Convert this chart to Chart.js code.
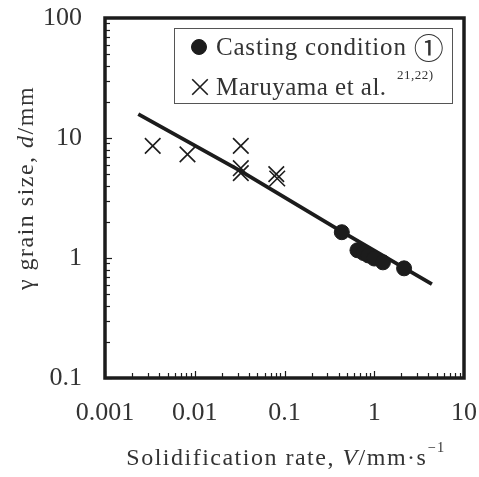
<!DOCTYPE html>
<html>
<head>
<meta charset="utf-8">
<script src="https://cdn.jsdelivr.net/npm/chart.js@4.4.0/dist/chart.umd.min.js"></script>
<style>
body { margin: 0; background: #fff; }
#wrap { width: 479px; height: 477px; }
</style>
</head>
<body>
<div id="wrap"><canvas id="grain_size_chart" width="479" height="477"></canvas></div>
<script>

// casting condition 1 (filled circles)
var casting_rate = [0.435, 0.65, 0.76, 0.86, 1.0, 1.25, 2.15];
var casting_size = [1.64, 1.16, 1.10, 1.05, 0.99, 0.92, 0.82];

// Maruyama et al. (crosses)
var maruyama_rate = [0.0034, 0.0083, 0.0326, 0.0326, 0.0326, 0.081, 0.083];
var maruyama_size = [8.6, 7.3, 8.6, 5.6, 5.1, 5.0, 4.6];

// calculated line
var calc_rate = [0.00235, 0.0326, 0.149, 0.435, 4.39];
var calc_size = [15.8, 5.3, 2.68, 1.66, 0.607];

var x_ticks = [0.001, 0.01, 0.1, 1, 10];
var x_tick_labels = ['0.001', '0.01', '0.1', '1', '10'];
var y_ticks = [0.1, 1, 10, 100];
var y_tick_labels = ['0.1', '1', '10', '100'];

var ink = '#1c1c1c';
var text_color = '#333';
var serif = '"Liberation Serif", "DejaVu Serif", serif';

function toPoints(xs, ys) {
    return xs.map(function (x, i) { return {x: x, y: ys[i]}; });
}

// text made of plain / italic / superscript pieces
function partFont(p, size) {
    var s = p.sup ? size * 0.6 : (p.scale ? size * p.scale : size);
    return (p.i ? 'italic ' : '') + s + 'px ' + (p.cjk ? '"Noto Sans CJK JP"' : serif);
}
function richWidth(ctx, parts, size) {
    var w = 0;
    parts.forEach(function (p) {
        ctx.font = partFont(p, size);
        w += ctx.measureText(p.t).width;
    });
    return w;
}
function richDraw(ctx, parts, size, x, y) {
    parts.forEach(function (p) {
        ctx.font = partFont(p, size);
        ctx.fillText(p.t, x, p.sup ? y - size * 0.45 : y);
        x += ctx.measureText(p.t).width;
    });
}

var x_title = [{t: 'Solidification rate, '}, {t: 'V', i: true}, {t: '/mm\u00b7s'}, {t: '\u22121', sup: true}];
var y_title = [{t: '\u03b3 grain size, '}, {t: 'd', i: true}, {t: '/mm'}];
var casting_legend = [{t: 'Casting condition '}, {t: '\u2460', cjk: true, scale: 1.2}];

const framePlugin = {
    id: 'frame',
    afterDraw: function (chart) {
        var ctx = chart.ctx;
        var a = chart.chartArea;
        var xs = chart.scales.x, ys = chart.scales.y;
        ctx.save();
        ctx.strokeStyle = ink;
        // inward ticks on the bottom and left axes
        ctx.lineWidth = 1.2;
        for (var e = -3; e < 1; e++) {
            for (var m = 1; m < 10; m++) {
                var px = Math.round(xs.getPixelForValue(m * Math.pow(10, e))) + 0.5;
                var len = m === 1 ? 7 : 5;
                ctx.beginPath(); ctx.moveTo(px, a.bottom); ctx.lineTo(px, a.bottom - len); ctx.stroke();
            }
        }
        for (var e2 = -1; e2 < 2; e2++) {
            for (var m2 = 1; m2 < 10; m2++) {
                var py = Math.round(ys.getPixelForValue(m2 * Math.pow(10, e2))) + 0.5;
                var len2 = m2 === 1 ? 7 : 5;
                ctx.beginPath(); ctx.moveTo(a.left, py); ctx.lineTo(a.left + len2, py); ctx.stroke();
            }
        }
        ctx.lineWidth = 3.5;
        ctx.strokeRect(a.left, a.top, a.right - a.left, a.bottom - a.top);

        // axis titles
        ctx.fillStyle = text_color;
        ctx.textBaseline = 'middle';
        ctx.textAlign = 'left';
        ctx.letterSpacing = '1.5px';
        var tw = richWidth(ctx, x_title, 24);
        richDraw(ctx, x_title, 24, 286 - tw / 2, 459);
        ctx.translate(27, 188);
        ctx.rotate(-Math.PI / 2);
        var yw = richWidth(ctx, y_title, 24);
        richDraw(ctx, y_title, 24, -yw / 2, 0);
        ctx.restore();

        // legend box inside the plot
        ctx.save();
        ctx.fillStyle = '#fff';
        ctx.fillRect(175, 28, 278, 75);
        ctx.strokeStyle = '#555';
        ctx.lineWidth = 1;
        ctx.strokeRect(174.5, 28.5, 278, 75);
        ctx.fillStyle = ink;
        ctx.strokeStyle = ink;
        Chart.helpers.drawPoint(ctx, {pointStyle: 'circle', radius: 7.5, borderWidth: 1}, 199, 47);
        ctx.lineWidth = 1.6;
        Chart.helpers.drawPoint(ctx, {pointStyle: 'crossRot', radius: 11, borderWidth: 1.6}, 200, 87);
        ctx.fillStyle = text_color;
        ctx.textBaseline = 'middle';
        ctx.textAlign = 'left';
        ctx.letterSpacing = '0.8px';
        richDraw(ctx, casting_legend, 25, 216, 48);
        ctx.letterSpacing = '0.5px';
        ctx.font = '25px ' + serif;
        ctx.fillText(chart.data.datasets[1].label, 216, 88);
        ctx.font = '13px ' + serif;
        ctx.fillText('21,22)', 397, 76);
        ctx.restore();
    }
};

const data = {
    datasets: [{
        label: 'calculated',
        data: toPoints(calc_rate, calc_size),
        showLine: true,
        borderColor: ink,
        borderWidth: 3.8,
        pointRadius: 0,
        order: 3,
    },
    {
        label: 'Maruyama et al.',
        data: toPoints(maruyama_rate, maruyama_size),
        pointStyle: 'crossRot',
        pointRadius: 11,
        borderColor: ink,
        borderWidth: 1.6,
        order: 2,
    },
    {
        label: 'Casting condition \u2460',
        data: toPoints(casting_rate, casting_size),
        pointStyle: 'circle',
        pointRadius: 7.5,
        backgroundColor: ink,
        borderColor: ink,
        borderWidth: 1,
        order: 1,
    }]
};

const config = {
    type: 'scatter',
    data: data,
    options: {
        responsive: false,
        animation: false,
        layout: {padding: {top: 18, right: 15, left: 0, bottom: 0}},
        scales: {
            x: {
                type: 'logarithmic',
                min: 0.001,
                max: 10,
                afterBuildTicks: function (scale) {
                    scale.ticks = x_ticks.map(function (v) { return {value: v}; });
                },
                afterFit: function (scale) {
                    scale.height = 99;
                    scale.paddingLeft = 0;
                    scale.paddingRight = 0;
                },
                ticks: {
                    autoSkip: false,
                    maxRotation: 0,
                    padding: 20,
                    color: text_color,
                    font: {family: serif, size: 26},
                    callback: function (v) {
                        var i = x_ticks.indexOf(v);
                        return i < 0 ? '' : x_tick_labels[i];
                    }
                },
                grid: {display: false, drawTicks: false},
                border: {display: false},
            },
            y: {
                type: 'logarithmic',
                min: 0.1,
                max: 100,
                afterBuildTicks: function (scale) {
                    scale.ticks = y_ticks.map(function (v) { return {value: v}; });
                },
                afterFit: function (scale) {
                    scale.width = 105;
                    scale.paddingTop = 0;
                    scale.paddingBottom = 0;
                },
                ticks: {
                    autoSkip: false,
                    padding: 23,
                    color: text_color,
                    font: {family: serif, size: 26},
                    callback: function (v) {
                        var i = y_ticks.indexOf(v);
                        return i < 0 ? '' : y_tick_labels[i];
                    }
                },
                grid: {display: false, drawTicks: false},
                border: {display: false},
            }
        },
        plugins: {
            legend: {display: false},
            tooltip: {enabled: false},
        }
    },
    plugins: [framePlugin]
};

const grainChart = new Chart(document.getElementById('grain_size_chart'), config);
</script>
</body>
</html>
